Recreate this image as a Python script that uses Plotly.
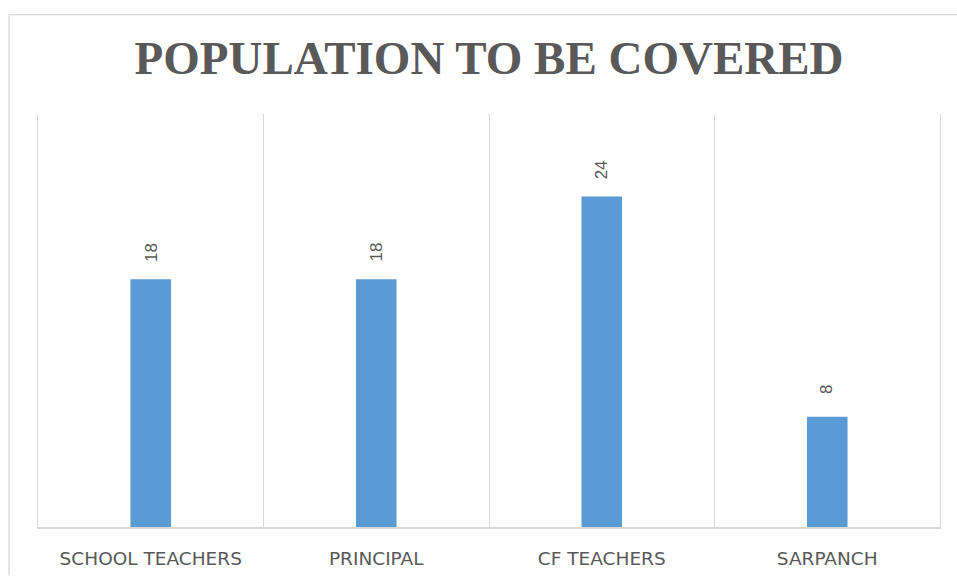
import plotly.graph_objects as go

categories = ["SCHOOL TEACHERS", "PRINCIPAL", "CF TEACHERS", "SARPANCH"]
values = [18, 18, 24, 8]
title_text = "POPULATION TO BE COVERED"

W, H = 957, 581
L, R, T, B = 38, 17, 114, 49

fig = go.Figure()
fig.add_trace(go.Bar(
    x=categories, y=values,
    marker=dict(color="#5B9BD5", line=dict(width=0)),
    width=0.18,
    hoverinfo="skip",
))

for c, v in zip(categories, values):
    fig.add_annotation(
        x=c, y=v, text=str(v), showarrow=False, textangle=-90,
        xanchor="center", yanchor="middle", yshift=27,
        font=dict(family="Liberation Sans, Arial", size=17, color="#595959"),
    )

pw = W - L - R
ph = H - T - B
bx0 = (9 - L) / pw
bx1 = (W - L) / pw
by_top = ((H - B) - 13.5) / ph
by_bot = -B / ph
border = dict(color="#D9D9D9", width=1.3)
fig.add_shape(type="line", xref="paper", yref="paper",
              x0=bx0, x1=bx1, y0=by_top, y1=by_top, line=border, layer="below")
fig.add_shape(type="line", xref="paper", yref="paper",
              x0=bx0, x1=bx0, y0=by_bot, y1=by_top, line=border, layer="below")

fig.update_layout(
    width=W, height=H,
    margin=dict(l=L, r=R, t=T, b=B),
    paper_bgcolor="white", plot_bgcolor="white",
    showlegend=False,
    title=dict(
        text="<b>" + title_text + "</b>",
        x=0.5, xref="paper", xanchor="center",
        y=(H - 58) / H, yref="container", yanchor="middle",
        font=dict(family="Liberation Serif, Times New Roman", size=47, color="#595959"),
    ),
    xaxis=dict(
        type="category", tickson="boundaries",
        showgrid=True, gridcolor="#D9D9D9", gridwidth=1,
        showline=True, linecolor="#D9D9D9", linewidth=1.5,
        ticks="", ticklen=0, ticklabelstandoff=14,
        tickfont=dict(family="DejaVu Sans, Open Sans", size=18.5, color="#595959"),
        range=[-0.5, 3.5], fixedrange=True,
    ),
    yaxis=dict(
        range=[0, 30], showgrid=False, zeroline=False,
        showticklabels=False, ticks="", fixedrange=True,
        showline=True, mirror=True, linecolor="#D9D9D9", linewidth=1,
    ),
)

fig.write_html(
    "out.html",
    config={"displayModeBar": False},
    post_script="document.body.style.margin='0';document.body.style.padding='0';document.body.style.overflow='hidden';",
)
